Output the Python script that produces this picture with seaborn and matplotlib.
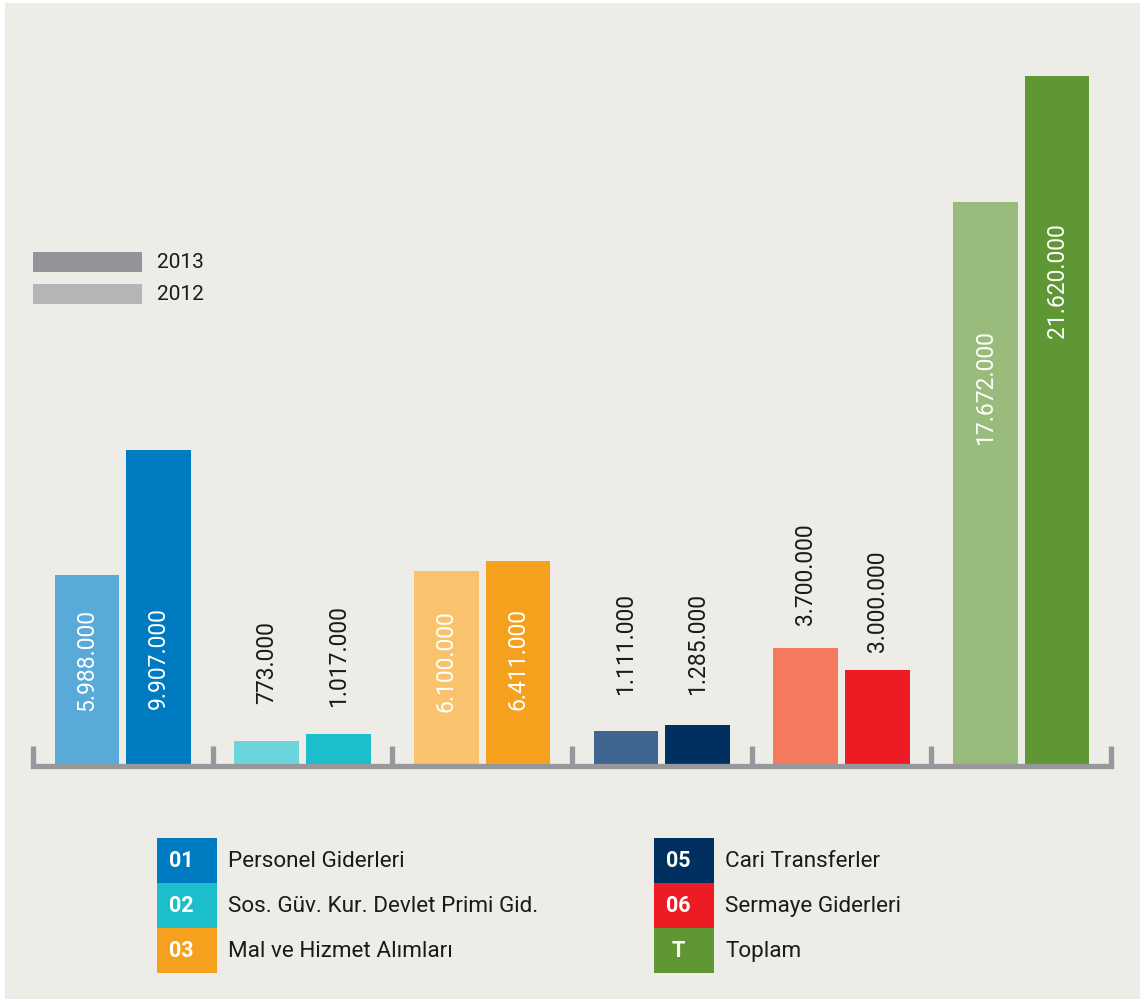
import pandas as pd
import matplotlib
matplotlib.use('Agg')
from matplotlib import pyplot as plt
from matplotlib.patches import Rectangle
import seaborn as sns

# data
codes = ['01', '02', '03', '05', '06', 'T']
names = ['Personel Giderleri', 'Sos. Güv. Kur. Devlet Primi Gid.', 'Mal ve Hizmet Alımları',
         'Cari Transferler', 'Sermaye Giderleri', 'Toplam']
years = ['2012', '2013']
values_2012 = [5988000, 773000, 6100000, 1111000, 3700000, 17672000]
values_2013 = [9907000, 1017000, 6411000, 1285000, 3000000, 21620000]

# colours (light = 2012, dark = 2013)
light = ['#5aaad9', '#6cd5dc', '#f8c36c', '#3f6591', '#f37a5d', '#99bc7c']
dark = ['#007bc2', '#1dbecb', '#f5a11e', '#00305f', '#ed1c24', '#5e9734']
# where the value labels start (bottom of rotated text)
lab_y_2012 = [1.76e6, 1.98e6, 1.73e6, 2.26e6, 4.46e6, 10.1e6]
lab_y_2013 = [1.82e6, 1.88e6, 1.79e6, 2.26e6, 3.61e6, 13.43e6]

bg = '#edece7'
axis_col = '#98979c'

sns.set_style('white')
plt.rcParams['font.family'] = ['Roboto', 'DejaVu Sans']

df = pd.DataFrame({
    'kod': codes * 2,
    'yil': ['2012'] * len(codes) + ['2013'] * len(codes),
    'tutar': values_2012 + values_2013,
})

W, H = 1144, 1003
fig = plt.figure(figsize=(W / 100, H / 100), dpi=100, facecolor='white')
fig.add_artist(Rectangle((5 / W, 1 - 1000 / H), 1135 / W, 996 / H,
                         transform=fig.transFigure, facecolor=bg, edgecolor='none', zorder=0))

ax = fig.add_axes([33 / W, 1 - 767 / H, 1078 / W, 702 / H])
ax.set_facecolor('none')

sns.barplot(data=df, x='kod', y='tutar', hue='yil', order=codes, hue_order=years,
            width=0.8, gap=0.1, saturation=1, linewidth=0, legend=False, ax=ax)

for cont, cols, vals, labs in zip(ax.containers, [light, dark],
                                  [values_2012, values_2013], [lab_y_2012, lab_y_2013]):
    for i, bar in enumerate(cont):
        bar.set_facecolor(cols[i])
        inside = vals[i] > 5e6
        ax.text(bar.get_x() + bar.get_width() / 2, labs[i],
                f'{vals[i]:,}'.replace(',', '.'), rotation=90, ha='center', va='bottom',
                fontsize=16.5, color='white' if inside else '#1a1a1a')

ax.set_xlim(-0.5, 5.5)
ax.set_ylim(0, 22e6)
ax.set_xticks([-0.5, 0.5, 1.5, 2.5, 3.5, 4.5, 5.5])
ax.set_xticklabels([])
ax.set_yticks([])
ax.set_xlabel('')
ax.set_ylabel('')
for s in ['top', 'left', 'right']:
    ax.spines[s].set_visible(False)
ax.spines['bottom'].set_color(axis_col)
ax.spines['bottom'].set_linewidth(3.8)
ax.tick_params(axis='x', bottom=True, direction='in', length=14.5, width=3.8,
               color=axis_col, pad=0)

# year legend
for k, (yr, col) in enumerate([('2013', '#949498'), ('2012', '#b3b5b7')]):
    y0 = 253 + k * 32
    fig.add_artist(Rectangle((33 / W, 1 - (y0 + 20) / H), 109 / W, 20 / H,
                             transform=fig.transFigure, facecolor=col, edgecolor='none'))
    fig.text(157 / W, 1 - (y0 + 10) / H, yr, fontsize=15, va='center', ha='left', color='#1a1a1a')

# category legend
for i, (code, name) in enumerate(zip(codes, names)):
    col_x = 157 if i < 3 else 654
    y0 = 839 + (i % 3) * 45
    fig.add_artist(Rectangle((col_x / W, 1 - (y0 + 45) / H), 60 / W, 45 / H,
                             transform=fig.transFigure, facecolor=dark[i], edgecolor='none'))
    fig.text((col_x + 24) / W, 1 - (y0 + 22.5) / H, code, fontsize=15.5, fontweight='bold',
             color='white', ha='center', va='center')
    fig.text((col_x + 71) / W, 1 - (y0 + 22.5) / H, name, fontsize=16.2,
             color='#1a1a1a', ha='left', va='center')

fig.savefig('out.png', dpi=100, facecolor='white')
